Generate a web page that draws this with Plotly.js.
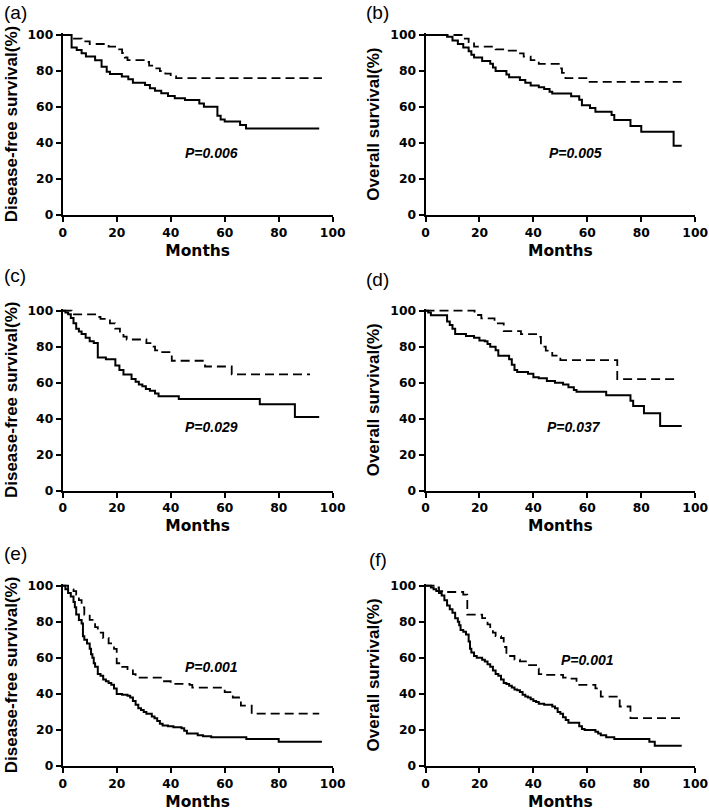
<!DOCTYPE html>
<html>
<head>
<meta charset="utf-8">
<script src="https://cdn.plot.ly/plotly-3.0.1.min.js"></script>
<style>html,body{margin:0;padding:0;background:#fff;}#chart{width:709px;height:812px;}</style>
</head>
<body>
<div id="chart"></div>
<script>
// ---------- data (months, survival %) ----------
const panelLabels = ["(a)", "(b)", "(c)", "(d)", "(e)", "(f)"];
const pValues = ["P=0.006", "P=0.005", "P=0.029", "P=0.037", "P=0.001", "P=0.001"];
const yTitles = ["Disease-free survival(%)", "Overall survival(%)", "Disease-free survival(%)", "Overall survival(%)", "Disease-free survival(%)", "Overall survival(%)"];
const xTitle = "Months";
const tickValues = [0, 20, 40, 60, 80, 100];

const aSolidT = [0, 3.3, 5.2, 7, 8.6, 12, 14.4, 16.3, 17.5, 21.9, 24.3, 26, 30.5, 32.3, 34.2, 36.5, 39, 41.5, 45.3, 50.6, 52.3, 57.3, 58.5, 60, 65.7, 67.9, 95];
const aSolidS = [100, 93, 91.7, 89.8, 88, 86, 82.4, 79.6, 78.3, 76.9, 75.4, 73.5, 72.2, 70.4, 69, 67.6, 66.1, 64.8, 63.9, 62, 60.2, 55.2, 53, 51.9, 50, 48.1, 48.1];
const aDashT = [0, 3.5, 7, 10, 17, 20, 22, 23, 24, 30, 32, 34, 36, 38, 40, 42, 96];
const aDashS = [100, 98, 96.5, 95, 93.5, 92, 90, 87.5, 86, 85, 83, 81.5, 80, 78.5, 77, 76, 76];

const bSolidT = [0, 8, 10, 12, 14, 16, 17, 18, 21, 24, 25, 26, 30, 31, 35, 37, 39, 42, 44, 46, 47, 54, 57, 58, 61, 63, 69, 70, 76, 80, 92, 95];
const bSolidS = [100, 99, 97, 95, 93, 91, 89, 87.5, 85.5, 84, 82, 80, 78, 76.5, 75, 73.5, 72, 71, 70, 68.5, 67.5, 66, 64, 61, 59.5, 57.3, 55.5, 52.8, 49.5, 46.3, 38.5, 38.5];
const bDashT = [0, 14, 16, 18, 26, 30, 34, 36.4, 39, 42, 49.4, 50.6, 51.9, 60.5, 96];
const bDashS = [100, 98, 96, 93.5, 92, 91.3, 89.8, 88, 86, 84, 81.5, 79, 76, 74, 74];

const cSolidT = [0, 1, 2, 3, 4, 5, 6, 7, 8.5, 10, 11.5, 13, 16, 19.5, 21, 22.5, 25.5, 27, 28.2, 29.5, 30.8, 32.3, 34.2, 35.5, 43, 73, 86, 95];
const cSolidS = [100, 99, 98, 96, 93, 90, 88.5, 87, 85, 83, 82, 74, 73, 69.5, 67, 64.5, 62, 60.5, 59, 58, 56.5, 55.5, 54, 52.5, 51, 48, 41, 41];
const cDashT = [0, 3.3, 12, 14, 17.5, 19.4, 21.2, 22.5, 23.7, 31, 32.5, 34.2, 35, 40.4, 52.7, 62.6, 91.6];
const cDashS = [100, 98, 96.5, 95.5, 93, 90, 87.4, 85.6, 84, 82, 80, 78, 77, 72.2, 69, 64.6, 64.6];

const dSolidT = [0, 1, 2, 8, 9, 10, 11, 15, 18, 20, 22, 23, 24, 26, 27, 31, 32, 33, 34, 38, 40, 42, 45, 48, 51, 53, 55, 56, 67, 76, 77, 81, 87, 95];
const dSolidS = [100, 99, 97.5, 94, 92, 90, 87, 86, 85, 83.5, 83, 81.5, 80, 78, 75, 73, 70, 67, 66, 65, 63, 62.5, 61, 60, 59, 57.5, 56, 55, 53, 50, 47, 43, 36, 36];
const dDashT = [0, 18.2, 20.7, 25.6, 29, 35.4, 41, 42.8, 44.6, 47, 50, 71.1, 93.2];
const dDashS = [100, 97.6, 95.7, 93, 88.7, 87, 85.5, 80, 77.8, 75, 72.5, 62, 62];

const eSolidT = [0, 1, 2, 3, 4, 4.5, 5, 6, 7, 7.5, 8, 9, 10, 10.5, 11, 11.5, 12, 13, 14, 15, 16, 17, 18, 19, 20, 22, 24, 25, 26, 27, 28, 29, 30, 31, 33, 34, 35, 36, 37, 39, 41, 44, 45, 46, 50, 52, 55, 68, 80, 96];
const eSolidS = [100, 98, 96, 94, 91, 88, 84, 81, 79, 72, 70, 68, 65, 62, 60, 57, 55, 51, 50, 48, 47, 46, 45, 43, 40, 39.5, 39, 38, 36, 34, 32, 31, 30, 29, 27.5, 26.5, 25, 23.5, 22.5, 22, 21.5, 21, 19.5, 18, 17, 16.5, 16, 15, 13.5, 13.5];
const eDashT = [0, 2, 4, 5, 6, 7, 8, 10, 12, 13, 15, 17, 19, 20, 22, 24, 26, 27, 37, 40, 47, 48, 60, 63, 66, 70, 95];
const eDashS = [100, 98, 97, 95, 92, 88, 84, 81, 77, 74, 71, 68, 65, 57, 55, 53, 51, 49, 47, 45.5, 45, 43.5, 41, 38, 33.5, 29, 29];

const fSolidT = [0, 2, 3, 4, 5, 6, 7, 8, 9, 10, 11, 12, 12.5, 13, 14, 15, 16, 16.5, 17, 18, 19, 21, 22, 23, 24, 25, 26, 27, 28, 29, 30, 31, 32, 33, 34, 35, 36, 37, 38, 39, 40, 41, 42, 44, 47, 48, 49, 50, 51, 52, 53, 57, 58, 59, 63, 64, 65, 67, 70, 83, 85, 95];
const fSolidS = [100, 99, 98, 97, 96, 94.5, 92, 89, 87, 85, 82, 80, 78, 75.5, 74.5, 73, 69, 65, 63, 61, 60, 59, 58, 56.5, 55, 53, 51, 50, 48, 46, 45.5, 44.5, 43.5, 42.5, 42, 41, 39.5, 38.5, 38, 37, 36, 35.5, 34.5, 34, 33, 32, 30, 29, 27, 25.5, 24, 22, 20.5, 20, 19, 18, 17, 16, 15, 13.5, 11.2, 11.2];
const fDashT = [0, 3, 5, 7, 14, 15.5, 21, 23, 24, 25, 26, 28, 29, 30, 33, 35, 38, 41, 42, 44, 51, 53, 56, 63, 65, 72, 76, 95];
const fDashS = [100, 99, 97, 96.5, 95, 84, 82, 78.5, 76, 74, 72, 71, 66, 61, 59, 58, 56, 54, 51, 50.5, 49, 48.5, 45, 43, 38.5, 33, 26.5, 26.5];

const solidT = [aSolidT, bSolidT, cSolidT, dSolidT, eSolidT, fSolidT];
const solidS = [aSolidS, bSolidS, cSolidS, dSolidS, eSolidS, fSolidS];
const dashT = [aDashT, bDashT, cDashT, dDashT, eDashT, fDashT];
const dashS = [aDashS, bDashS, cDashS, dDashS, eDashS, fDashS];

// ---------- layout geometry (pixels in the 709x812 page) ----------
const W = 709, H = 812;
const colX = [[62.7, 332.7], [425.5, 695.2]];
const rowY = [[35, 215], [310.7, 490.7], [585.7, 766]]; // top (value 100), bottom (value 0)
const yMax = 101;
const labelPos = [[2, 12.5], [364, 12.5], [2, 276], [364, 279], [2, 553.5], [367, 559]];
const pPos = [[211.7, 153.3], [575, 153.3], [211.7, 427.3], [574, 426.7], [211.7, 666.7], [587.3, 660]];

const FONT = "Liberation Sans, Arial, Helvetica, sans-serif";
const TICKFONT = "DejaVu Sans, Liberation Sans, Arial, sans-serif";
const traces = [];
const layout = {
  width: W, height: H,
  margin: {l: 0, r: 0, t: 0, b: 0},
  paper_bgcolor: "#fff", plot_bgcolor: "#fff",
  showlegend: false,
  font: {family: FONT, color: "#000"},
  annotations: []
};

for (let i = 0; i < 6; i++) {
  const col = i % 2, row = Math.floor(i / 2);
  const sfx = i === 0 ? "" : String(i + 1);
  const xa = "x" + sfx, ya = "y" + sfx;
  const top = rowY[row][0], bot = rowY[row][1];
  const pxPerUnit = (bot - top) / 100;
  const topExt = top - (yMax - 100) * pxPerUnit;
  traces.push({
    x: solidT[i], y: solidS[i], xaxis: xa, yaxis: ya, type: "scatter", mode: "lines",
    line: {shape: "hv", color: "#000", width: 2}, hoverinfo: "skip"
  });
  traces.push({
    x: dashT[i], y: dashS[i], xaxis: xa, yaxis: ya, type: "scatter", mode: "lines",
    line: {shape: "hv", color: "#000", width: 1.8, dash: "9px,5px"}, hoverinfo: "skip"
  });
  const common = {
    tickvals: tickValues, ticks: "outside", ticklen: 5, tickwidth: 2, tickcolor: "#000",
    showline: true, linewidth: 2, linecolor: "#000", showgrid: false, zeroline: false,
    tickfont: {family: TICKFONT, size: 12.3, color: "#000", weight: "bold"},
    ticklabeloverflow: "allow",
    fixedrange: true, automargin: false
  };
  layout["xaxis" + sfx] = Object.assign({}, common, {
    domain: [colX[col][0] / W, colX[col][1] / W], range: [0, 100], anchor: ya,
    title: {text: xTitle, font: {family: TICKFONT, size: 15.5, color: "#000", weight: "bold"}, standoff: 6}
  });
  layout["yaxis" + sfx] = Object.assign({}, common, {
    domain: [1 - bot / H, 1 - topExt / H], range: [0, yMax], anchor: xa,
    title: {text: yTitles[i], font: {family: FONT, size: 17, color: "#000", weight: "bold"}, standoff: 6}
  });
  layout.annotations.push({
    text: panelLabels[i], xref: "paper", yref: "paper", showarrow: false,
    x: labelPos[i][0] / W, y: 1 - labelPos[i][1] / H, xanchor: "left", yanchor: "middle",
    font: {family: FONT, size: 19, color: "#000"}
  });
  layout.annotations.push({
    text: "<b><i>" + pValues[i] + "</i></b>", xref: "paper", yref: "paper", showarrow: false,
    x: pPos[i][0] / W, y: 1 - pPos[i][1] / H, xanchor: "center", yanchor: "middle",
    font: {family: FONT, size: 14, color: "#000"}
  });
}

Plotly.newPlot("chart", traces, layout, {displayModeBar: false, staticPlot: true});
</script>
</body>
</html>
